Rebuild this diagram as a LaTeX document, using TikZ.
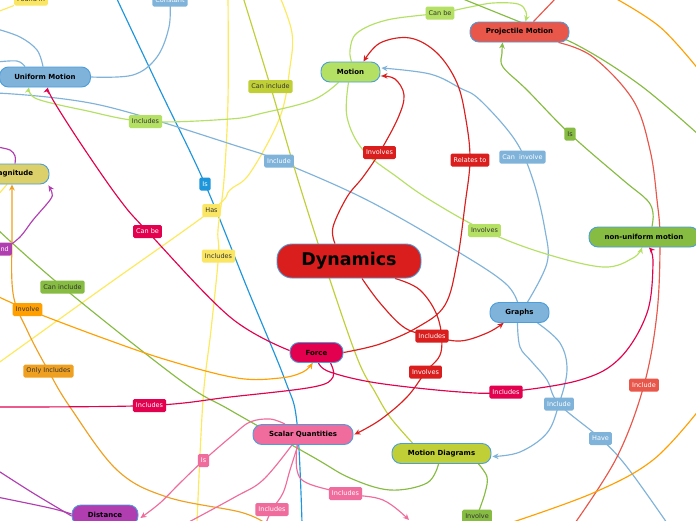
\documentclass[tikz,border=0pt]{standalone}
\usepackage{fontspec}
\setmainfont{DejaVu Sans}
\usetikzlibrary{arrows.meta,calc}
\pgfdeclarelayer{bg}
\pgfsetlayers{bg,main}
\definecolor{cDyn}{HTML}{DA1E1E}
\definecolor{cMotion}{HTML}{B4E064}
\definecolor{cProj}{HTML}{E9564A}
\definecolor{cBlue}{HTML}{80B3D9}
\definecolor{cMag}{HTML}{DCD06A}
\definecolor{cGreen}{HTML}{87BC42}
\definecolor{cForce}{HTML}{E2004F}
\definecolor{cPink}{HTML}{F06C9C}
\definecolor{cMD}{HTML}{C0CF36}
\definecolor{cPurple}{HTML}{B03EB0}
\definecolor{cYellow}{HTML}{FAE663}
\definecolor{cYLine}{HTML}{FDE95A}
\definecolor{cIsBlue}{HTML}{1E96DC}
\definecolor{cOrange}{HTML}{FFA000}
\definecolor{cOrange2}{HTML}{F0A020}
\definecolor{cBorder}{HTML}{4A9EDB}
\definecolor{cDark}{HTML}{333333}
\tikzset{
 topic/.style={draw=cBorder, line width=0.9pt, rounded corners=9pt, minimum height=20pt, inner sep=0pt, font=\fontsize{7}{8}\selectfont\bfseries, text=black},
 lab/.style={rounded corners=1.5pt, inner xsep=3pt, inner ysep=0pt, minimum height=13pt, font=\fontsize{6.5}{7}\selectfont},
 labw/.style={lab, text=white},
 labd/.style={lab, text=cDark},
 conn/.style={line width=1.15pt},
 arr/.style={conn, -{Stealth[length=6pt,width=5.5pt]}},
 sm/.style={smooth, tension=0.6}
}
\begin{document}
\begin{tikzpicture}[x=1pt,y=-1pt]
\useasboundingbox (0,0) rectangle (696,520);
% topics
\node[topic, fill=cDyn, minimum width=144pt, minimum height=34pt, rounded corners=15pt, font=\fontsize{17.5}{20}\selectfont\bfseries] (dyn) at (349,261) {Dynamics};
\node[topic, fill=cMotion, minimum width=59pt] (motion) at (350.5,72) {Motion};
\node[topic, fill=cProj, minimum width=99pt] (proj) at (519.5,32) {Projectile Motion};
\node[topic, fill=cBlue, minimum width=91pt] (uniform) at (45,77) {Uniform Motion};
\node[topic, fill=cMag, minimum width=74pt] (magn) at (12,174) {Magnitude};
\node[topic, fill=cGreen, minimum width=110pt] (nonu) at (644,237) {non-uniform motion};
\node[topic, fill=cBlue, minimum width=59pt] (graphs) at (519.5,312.5) {Graphs};
\node[topic, fill=cForce, minimum width=53pt] (force) at (316.5,352.5) {Force};
\node[topic, fill=cPink, minimum width=100pt] (scalar) at (303,434.5) {Scalar Quantities};
\node[topic, fill=cMD, minimum width=99pt] (mdiag) at (441.5,453.5) {Motion Diagrams};
\node[topic, fill=cPurple, minimum width=66pt] (dist) at (105,515) {Distance};
% labels
\node[labd, fill=cYellow] (lFound) at (31,-1) {Found in};
\node[labw, fill=cBlue] (lConst) at (170,0) {Constant};
\node[labd, fill=cMotion] (lCanbe1) at (440,13) {Can be};
\node[labd, fill=cMD] (lCaninc1) at (270.5,86.5) {Can include};
\node[labd, fill=cMotion] (lInc1) at (145.5,121.5) {Includes};
\node[labw, fill=cBlue] (lInc2) at (279,161) {Include};
\node[labw, fill=cDyn] (lInv1) at (379.5,152.5) {Involves};
\node[labw, fill=cDyn] (lRel) at (470,160) {Relates to};
\node[labw, fill=cBlue] (lCaninv) at (522.5,157) {Can\ \ involve};
\node[labd, fill=cGreen] (lIs1) at (570,134) {Is};
\node[labw, fill=cIsBlue] (lIs2) at (205,184) {Is};
\node[labd, fill=cYellow] (lHas) at (211.5,210.5) {Has};
\node[labw, fill=cForce] (lCanbe2) at (147.5,231.5) {Can be};
\node[labd, fill=cYellow] (lInc3) at (218.5,256) {Includes};
\node[labd, fill=cMotion] (lInv2) at (484.5,230.5) {Involves};
\node[labw, fill=cPurple, anchor=east] (lnd) at (12,249) {nd};
\node[labd, fill=cGreen] (lCaninc2) at (62.5,287) {Can include};
\node[labd, fill=cOrange] (lInv3) at (27.5,309.5) {Involve};
\node[labd, fill=cOrange2] (lOnly) at (48.5,371) {Only Includes};
\node[labw, fill=cDyn] (lInc4) at (432,336) {Includes};
\node[labw, fill=cDyn] (lInv4) at (425.5,372) {Involves};
\node[labw, fill=cForce] (lInc5) at (149.5,405.5) {Includes};
\node[labw, fill=cForce] (lInc6) at (506,392) {Includes};
\node[labw, fill=cBlue] (lInc7) at (559,404) {Include};
\node[labw, fill=cProj] (lInc8) at (644,385) {Include};
\node[labw, fill=cBlue] (lHave) at (600.5,438.5) {Have};
\node[labw, fill=cPink] (lIs3) at (203.5,460.5) {Is};
\node[labw, fill=cPink] (lInc9) at (345.5,493.5) {Includes};
\node[labw, fill=cPink] (lInc10) at (272,509.5) {Includes};
\node[labd, fill=cGreen] (lInv5) at (477,516) {Involve};
% free ends
\coordinate (eIsTop) at (116,-3);
\coordinate (eIsBot) at (302,523);
\coordinate (eYA) at (228,-3);
\coordinate (eYAb) at (197,523);
\coordinate (eYB) at (280,-3);
\coordinate (eYBb) at (-3,364);
\coordinate (eFound) at (-3,12);
\coordinate (eBl1) at (-3,29);
\coordinate (eBl2) at (-3,62);
\coordinate (eBl3) at (-3,93);
\coordinate (eYG) at (243,-3);
\coordinate (ePr) at (557,-3);
\coordinate (ePr2) at (575,523);
\coordinate (eGr1) at (458,-3);
\coordinate (eGr2) at (699,135);
\coordinate (eGr3) at (-3,229);
\coordinate (eOr1) at (-3,296);
\coordinate (eOr2) at (265,523);
\coordinate (eOr3) at (613,-3);
\coordinate (eOr4) at (699,70);
\coordinate (eOr5) at (699,410);
\coordinate (eOr6) at (510,523);
\coordinate (eCr) at (-3,407);
\coordinate (eHave) at (667,523);
\coordinate (ePk1) at (266,523);
\coordinate (ePk2) at (187,523);
\coordinate (ePk3) at (409,520);
\coordinate (ePu1) at (-3,147);
\coordinate (ePu2) at (-3,470);
\coordinate (ePu3) at (-3,497);
\coordinate (eY3) at (-3,196);
\begin{pgfonlayer}{bg}
\fill[white] (-5,-5) rectangle (701,525);
% blue Is
\draw[conn, cIsBlue] plot[sm] coordinates {(eIsTop) (160,90) (lIs2) (248,290) (285,380) (297,423) (eIsBot)};
% yellow lines
\draw[conn, cYLine] plot[sm] coordinates {(eYA) (228,100) (224,180) (218,230) (lInc3) (211,330) (203,400) (eYAb)};
\draw[conn, cYLine] plot[sm] coordinates {(eYB) (292,33) (290,67) (280,117) (250,173) (230,190) (lHas) (100,290) (eYBb)};
\draw[conn, cYLine] (eFound) -- (lFound);
\draw[conn, cYLine] ($(magn.south)+(-5,0)$) -- (eY3);
% light blue
\draw[conn, cBlue] plot[sm] coordinates {(lConst) (169,27) (157,57) (133,75) (uniform.east)};
\draw[conn, cBlue] plot[sm] coordinates {(eBl1) (20,37) (37,50) ($(uniform.north)+(-2,0)$)};
\draw[conn, cBlue] plot[sm] coordinates {(eBl2) (17,61) ($(uniform.north)+(-20,0)$)};
\draw[conn, cBlue] plot[sm] coordinates {(eBl3) (100,105) (240,147) (lInc2) (367,200) (460,253) (505,283) ($(graphs.north)+(-2,0)$)};
\draw[arr, cBlue] plot[sm] coordinates {($(graphs.north)+(8,0)$) (547,263) (545,230) (533,180) (515,140) (480,100) (460,88) (430,74) ($(motion.east)+(1,-4)$)};
\draw[arr, cBlue] plot[sm] coordinates {($(graphs.south)+(18,0)$) (560,343) (567,370) (lInc7) (547,433) (520,452) ($(mdiag.east)+(1,3)$)};
\draw[conn, cBlue] plot[sm] coordinates {($(graphs.south)+(-2,0)$) (520,347) (532,362) (547,380) (lInc7) (lHave) (627,467) (eHave)};
% light green
\draw[arr, cMotion] plot[sm] coordinates {($(motion.north)+(1,0)$) (350,50) (357,33) (387,20) (lCanbe1) (470,7) (493,3) (518,4) (526,12) ($(proj.north)+(6,0)$)};
\draw[arr, cMotion] plot[sm] coordinates {($(motion.south)+(-12,0)$) (313,100) (263,113) (230,119) (lInc1) (83,110) (40,100) (30,93) ($(uniform.south)+(-16,0)$)};
\draw[arr, cMotion] plot[sm] coordinates {($(motion.south)+(-2,0)$) (347,117) (363,150) (397,177) (430,200) (lInv2) (543,253) (603,267) (633,258) ($(nonu.south)+(-2,0)$)};
% yellow-green
\draw[conn, cMD] plot[sm] coordinates {(eYG) (lCaninc1) (298,180) (330,280) (358,360) (375,392) (390,417) ($(mdiag.north west)+(21,0)$)};
% red
\draw[arr, cDyn] plot[sm] coordinates {($(dyn.north)+(-14,0)$) (333,227) (347,197) (363,177) (lInv1) (398,118) (404,95) (395,79) ($(motion.east)+(1,4)$)};
\draw[arr, cDyn] plot[sm] coordinates {(force.east) (380,344) (418,327) (445,305) (457,262) (465,205) (lRel) (466,120) (457,83) (437,53) (410,38) (380,43) ($(motion.north)+(13,0)$)};
\draw[arr, cDyn] plot[sm] coordinates {($(dyn.south)+(13,0)$) (380,303) (405,328) (lInc4) (460,341) (487,333) ($(graphs.south west)+(14,0)$)};
\draw[arr, cDyn] plot[sm] coordinates {($(dyn.south)+(46,0)$) (420,290) (438,318) (441,352) (lInv4) (407,397) (380,420) ($(scalar.east)+(1,0)$)};
% red-orange
\draw[conn, cProj] ($(proj.north)+(14,0)$) -- (ePr);
\draw[conn, cProj] plot[sm] coordinates {($(proj.south east)+(-11,0)$) (593,57) (633,100) (650,150) (657,200) (660,240) (657,313) (lInc8) (617,457) (ePr2)};
% green
\draw[arr, cGreen] plot[sm] coordinates {($(nonu.north)+(8,0)$) (653,213) (647,200) (623,180) (lIs1) (527,90) (503,67) (502,53) ($(proj.south west)+(33,0)$)};
\draw[conn, cGreen] plot[sm] coordinates {(eGr1) (520,22) (577,45) (640,85) (eGr2)};
\draw[conn, cGreen] plot[sm] coordinates {($(mdiag.south)+(-3,0)$) (427,483) (390,490) (350,478) (313,457) (230,410) (180,380) (lCaninc2) (eGr3)};
\draw[conn, cGreen] plot[sm] coordinates {($(mdiag.south)+(37,0)$) (487,477) (485,493) (lInv5)};
% orange
\draw[arr, cOrange] plot[sm] coordinates {(eOr1) (lInv3) (100,337) (167,360) (237,378) (280,378) (303,372) ($(force.south)+(-4,0)$)};
\draw[arr, cOrange2] plot[sm] coordinates {(eOr2) (240,512) (167,497) (117,470) (70,407) (lOnly) (27,330) (13,293) (12,230) (magn.south)};
\draw[conn, cOrange] plot[sm] coordinates {(eOr3) (660,27) (eOr4)};
\draw[conn, cOrange] plot[sm] coordinates {(eOr5) (653,460) (593,493) (eOr6)};
% crimson
\draw[arr, cForce] plot[sm] coordinates {($(force.west)+(0,-2)$) (230,317) (lCanbe2) (120,200) (83,147) (53,100) ($(uniform.south)+(3,0)$)};
\draw[conn, cForce] plot[sm] coordinates {($(force.south)+(14,0)$) (333,377) (313,387) (230,397) (lInc5) (eCr)};
\draw[arr, cForce] plot[sm] coordinates {($(force.south)+(2,0)$) (330,372) (377,383) (460,392) (lInc6) (580,380) (620,358) (647,313) (653,263) ($(nonu.south)+(5,0)$)};
% pink
\draw[arr, cPink] plot[sm] coordinates {($(scalar.north)+(-18,0)$) (270,419) (250,422) (233,435) (lIs3) (180,483) (160,503) ($(dist.east)+(2,3)$)};
\draw[conn, cPink] plot[sm] coordinates {($(scalar.south)+(-5,0)$) (290,470) (283,493) (lInc10) (ePk1)};
\draw[conn, cPink] plot[sm] coordinates {($(scalar.south)+(-11,0)$) (263,480) (235,497) (ePk2)};
\draw[arr, cPink] plot[sm] coordinates {($(scalar.south)+(-6,0)$) (297,470) (307,483) (lInc9) (383,500) (ePk3)};
% purple
\draw[conn, cPurple] plot[sm] coordinates {(ePu1) (10,150) (15,156) ($(magn.north)+(3,0)$)};
\draw[arr, cPurple] plot[sm] coordinates {(lnd) (20,237) (33,220) (50,200) (52,193) ($(magn.south east)+(-1,1)$)};
\draw[conn, cPurple] plot[sm] coordinates {(ePu2) (33,493) ($(dist.west)+(0,1)$)};
\draw[conn, cPurple] plot[sm] coordinates {(ePu3) (50,508) ($(dist.west)+(0,-1)$)};
\end{pgfonlayer}
\end{tikzpicture}
\end{document}
